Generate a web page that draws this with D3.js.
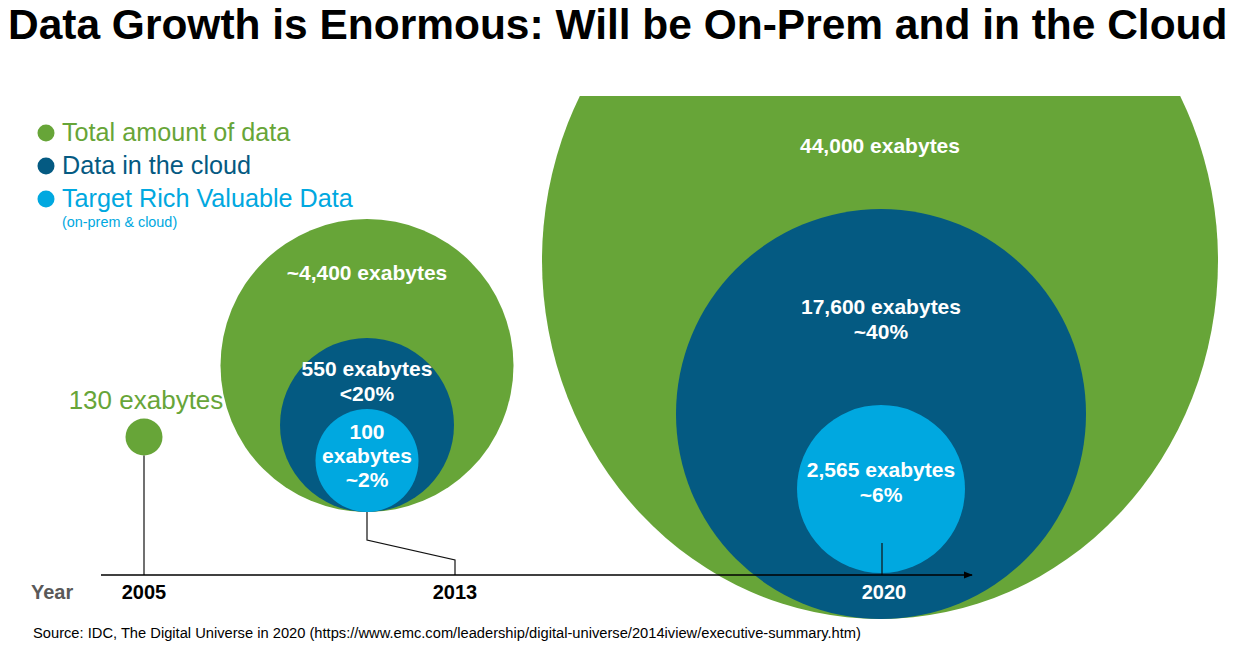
<!DOCTYPE html>
<html>
<head>
<meta charset="utf-8">
<script src="https://cdn.jsdelivr.net/npm/d3@7"></script>
<style>
  html, body { margin: 0; padding: 0; background: #fff; }
  svg { display: block; font-family: "Liberation Sans", Arial, Helvetica, sans-serif; }
</style>
</head>
<body>
<svg id="chart" width="1237" height="652"></svg>
<script>
// ---------------- DATA ----------------
const titleText = "Data Growth is Enormous: Will be On-Prem and in the Cloud";
const sourceText = "Source: IDC, The Digital Universe in 2020 (https://www.emc.com/leadership/digital-universe/2014iview/executive-summary.htm)";
const years = ["2005", "2013", "2020"];
const seriesNames = ["Total amount of data", "Data in the cloud", "Target Rich Valuable Data"];
const seriesNote = "(on-prem & cloud)";
const totalData = [130, 4400, 44000];          // exabytes
const cloudData = [null, 550, 17600];          // exabytes
const targetData = [null, 100, 2565];          // exabytes
const totalLabels = ["130 exabytes", "~4,400 exabytes", "44,000 exabytes"];
const cloudLabels = [null, ["550 exabytes", "<20%"], ["17,600 exabytes", "~40%"]];
const targetLabels = [null, ["100", "exabytes", "~2%"], ["2,565 exabytes", "~6%"]];
const axisLabel = "Year";

// ---------------- STYLE / LAYOUT ----------------
const colors = ["#67a538", "#045a82", "#00a8e0"];
const font = "'Liberation Sans', Arial, Helvetica, sans-serif";
const svg = d3.select("#chart");
const W = 1237, H = 652;
const axisY = 575;

// year -> position of the year label / timeline tick
const xYear = d3.scaleOrdinal().domain(years).range([144, 455, 884]);
// year -> horizontal centre of the bubble group
const xBubble = d3.scaleOrdinal().domain(years).range([144, 367, 881]);
// bubble sizes in the infographic are illustrative (not to strict area scale),
// so a piecewise scale maps each value to its drawn radius
const rScale = d3.scaleLinear()
  .domain([100, 130, 550, 2565, 4400, 17600, 44000])
  .range([51.5, 18.5, 87, 84, 146.5, 205, 338]);
// bottom edges of bubbles (groups are bottom aligned)
const bottomY = d3.scaleOrdinal().domain(years).range([455.5, 512, 619]);
const innerBottomY = d3.scaleOrdinal().domain(years).range([455.5, 512, 573]);
const bigStretch = 1.06; // the 2020 total bubble is slightly stretched vertically

// clip for the huge bubble (cut off below the title band)
svg.append("defs").append("clipPath").attr("id", "clipTop")
  .append("rect").attr("x", 0).attr("y", 96).attr("width", W).attr("height", H);

// ---------------- BUBBLES ----------------
const g = svg.append("g");
years.forEach((yr, i) => {
  const cx = xBubble(yr);
  const rT = rScale(totalData[i]);
  if (i === 2) {
    const ry = rT * bigStretch;
    g.append("ellipse").attr("cx", cx - 1).attr("cy", bottomY(yr) - ry)
      .attr("rx", rT).attr("ry", ry).attr("fill", colors[0])
      .attr("clip-path", "url(#clipTop)");
  } else {
    g.append("circle").attr("cx", cx).attr("cy", bottomY(yr) - rT)
      .attr("r", rT).attr("fill", colors[0]);
  }
  if (cloudData[i] != null) {
    const rC = rScale(cloudData[i]);
    g.append("circle").attr("cx", cx).attr("cy", bottomY(yr) - rC)
      .attr("r", rC).attr("fill", colors[1]);
  }
  if (targetData[i] != null) {
    const rR = rScale(targetData[i]);
    g.append("circle").attr("cx", cx).attr("cy", innerBottomY(yr) - rR)
      .attr("r", rR).attr("fill", colors[2]);
  }
});

// ---------------- LEADER LINES ----------------
const lines = svg.append("g").attr("stroke", "#111").attr("stroke-width", 1.2).attr("fill", "none");
lines.append("path").attr("d", d3.line()([[xYear("2005"), bottomY("2005")], [xYear("2005"), axisY]]));
lines.append("path").attr("d", d3.line()([
  [xBubble("2013"), innerBottomY("2013")],
  [xBubble("2013"), 540],
  [xYear("2013"), 560],
  [xYear("2013"), axisY]
]));
lines.append("path").attr("d", d3.line()([[xBubble("2020") + 1, 543], [xBubble("2020") + 1, axisY]]));

// ---------------- AXIS ----------------
svg.append("defs").append("marker").attr("id", "arrow")
  .attr("viewBox", "0 0 10 10").attr("refX", 9).attr("refY", 5)
  .attr("markerWidth", 7).attr("markerHeight", 7).attr("orient", "auto")
  .append("path").attr("d", "M0,1 L10,5 L0,9 Z").attr("fill", "#000");
svg.append("line").attr("x1", 101).attr("x2", 972).attr("y1", axisY).attr("y2", axisY)
  .attr("stroke", "#000").attr("stroke-width", 1.3).attr("marker-end", "url(#arrow)");

svg.append("text").attr("x", 31).attr("y", 599).text(axisLabel)
  .attr("font-family", font).attr("font-weight", "bold").attr("font-size", 20).attr("fill", "#595959");
svg.selectAll("text.year").data(years).enter().append("text")
  .attr("class", "year")
  .attr("x", d => xYear(d)).attr("y", 599).attr("text-anchor", "middle")
  .attr("font-family", font).attr("font-weight", "bold").attr("font-size", 20)
  .attr("fill", (d, i) => i === 2 ? "#fff" : "#000").text(d => d);

// ---------------- BUBBLE LABELS ----------------
const lab = svg.append("g").attr("font-family", font).attr("font-weight", "bold")
  .attr("font-size", 21).attr("fill", "#fff").attr("text-anchor", "middle");
svg.append("text").attr("x", 146).attr("y", 409).attr("text-anchor", "middle")
  .attr("font-family", font).attr("font-size", 26).attr("fill", colors[0]).text(totalLabels[0]);
lab.append("text").attr("x", xBubble("2013")).attr("y", 280).text(totalLabels[1]);
lab.append("text").attr("x", xBubble("2020") - 1).attr("y", 153).attr("font-size", 21).text(totalLabels[2]);
const lineBlock = (ls, x, y0, step) => ls.forEach((t, k) =>
  lab.append("text").attr("x", x).attr("y", y0 + k * step).text(t));
lineBlock(cloudLabels[1], xBubble("2013"), 376, 24.5);
lineBlock(targetLabels[1], xBubble("2013"), 439, 24);
lineBlock(cloudLabels[2], xBubble("2020"), 314, 25);
lineBlock(targetLabels[2], xBubble("2020"), 477, 25);

// ---------------- LEGEND ----------------
const legY = [133, 166, 199];
const leg = svg.append("g");
seriesNames.forEach((s, i) => {
  leg.append("circle").attr("cx", 46).attr("cy", legY[i]).attr("r", 8.5).attr("fill", colors[i]);
  leg.append("text").attr("x", 62).attr("y", legY[i] + 8).attr("font-family", font)
    .attr("font-size", 25.2).attr("fill", colors[i]).text(s);
});
leg.append("text").attr("x", 62).attr("y", 227).attr("font-family", font)
  .attr("font-size", 14.4).attr("fill", colors[2]).text(seriesNote);

// ---------------- TITLE & SOURCE (fit to measured widths) ----------------
function fitText(sel, targetW) {
  const fs = +sel.attr("font-size");
  const w = sel.node().getComputedTextLength();
  sel.attr("font-size", fs * targetW / w);
}
const title = svg.append("text").attr("x", 8).attr("y", 39).attr("font-family", font)
  .attr("font-weight", "bold").attr("font-size", 46).attr("fill", "#000").text(titleText);
fitText(title, 1220);
const src = svg.append("text").attr("x", 33).attr("y", 638).attr("font-family", font)
  .attr("font-size", 14).attr("fill", "#000").text(sourceText);
fitText(src, 829);
</script>
</body>
</html>
